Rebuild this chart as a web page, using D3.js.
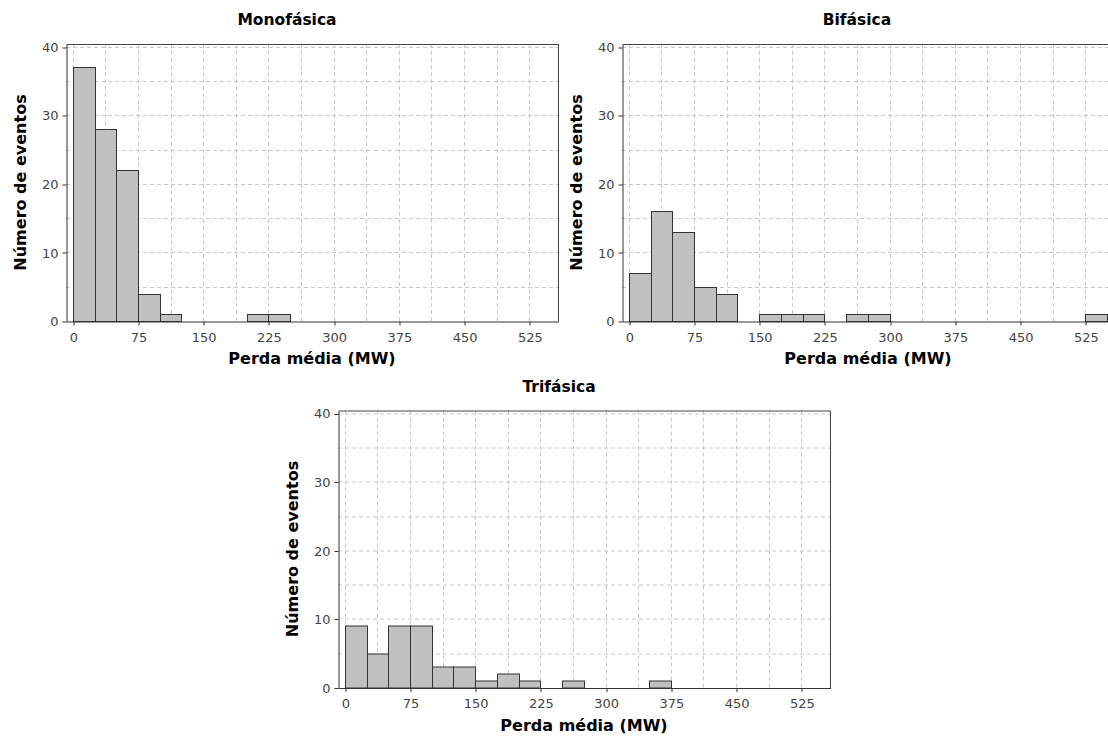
<!DOCTYPE html>
<html>
<head>
<meta charset="utf-8">
<script src="https://cdn.jsdelivr.net/npm/d3@7"></script>
<style>
  html, body { margin: 0; padding: 0; background: #fff; overflow: hidden; }
  svg { display: block; }
</style>
</head>
<body>
<svg id="chart" width="1108" height="738"></svg>
<script>
// Histogram bins: lower edge of each 25 MW class
const binWidth = 25;
const binStarts = [0, 25, 50, 75, 100, 125, 150, 175, 200, 225, 250,
                   275, 300, 325, 350, 375, 400, 425, 450, 475, 500, 525];

// Number of events per bin
const monofasica = [37, 28, 22, 4, 1, 0, 0, 0, 1, 1, 0, 0, 0, 0, 0, 0, 0, 0, 0, 0, 0, 0];
const bifasica   = [7, 16, 13, 5, 4, 0, 1, 1, 1, 0, 1, 1, 0, 0, 0, 0, 0, 0, 0, 0, 0, 1];
const trifasica  = [9, 5, 9, 9, 3, 3, 1, 2, 1, 0, 1, 0, 0, 0, 1, 0, 0, 0, 0, 0, 0, 0];

const titles = ["Monofásica", "Bifásica", "Trifásica"];
const xTicks = [0, 75, 150, 225, 300, 375, 450, 525];
const yTicks = [0, 10, 20, 30, 40];
const xLabel = "Perda média (MW)";
const yLabel = "Número de eventos";

const svg = d3.select("#chart");
const W = 492, H = 277;
const tickFont = "'DejaVu Sans', Verdana, sans-serif";

function drawPanel(title, counts, left, top, titleX) {
  const g = svg.append("g").attr("transform", `translate(${left},${top})`);
  const x = d3.scaleLinear().domain([-7.8, 558]).range([0, W]);
  const y = d3.scaleLinear().domain([0, 40.4]).range([H, 0]);
  const px = v => Math.round(x(v)) + 0.5;
  const py = v => Math.round(y(v)) + 0.5;

  // dashed grid
  const grid = g.append("g").attr("stroke", "#c8c8c8").attr("stroke-width", 1)
    .attr("stroke-dasharray", "4,3").attr("fill", "none");
  grid.selectAll("line.v").data(d3.range(0, 558, 37.5)).join("line")
    .attr("x1", d => px(d)).attr("x2", d => px(d))
    .attr("y1", 0).attr("y2", H);
  grid.selectAll("line.h").data(d3.range(5, 41, 5)).join("line")
    .attr("x1", 0).attr("x2", W)
    .attr("y1", d => py(d)).attr("y2", d => py(d));

  // bars
  const bins = binStarts.map((s, i) => ({ s, c: counts[i] })).filter(d => d.c > 0);
  g.append("g").selectAll("rect").data(bins).join("rect")
    .attr("x", d => px(d.s))
    .attr("width", d => Math.round(x(d.s + binWidth)) - Math.round(x(d.s)))
    .attr("y", d => py(d.c))
    .attr("height", d => Math.round(y(0)) - Math.round(y(d.c)))
    .attr("fill", "#c0c0c0")
    .attr("stroke", "#333")
    .attr("stroke-width", 1);

  // plot outline (top and right)
  g.append("path")
    .attr("d", `M0.5,0.5H${W + 0.5}V${H + 0.5}`)
    .attr("fill", "none").attr("stroke", "#444");

  // axes
  const xAxis = d3.axisBottom(x).tickValues(xTicks).tickSize(4).tickSizeOuter(0).tickPadding(7);
  const yAxis = d3.axisLeft(y).tickValues(yTicks).tickSize(4).tickSizeOuter(0).tickPadding(4);
  const gx = g.append("g").attr("transform", `translate(0.5,${H + 0.5})`).call(xAxis);
  const gy = g.append("g").attr("transform", `translate(0.5,0.5)`).call(yAxis);
  [gx, gy].forEach(a => {
    a.select(".domain").attr("stroke", "#333");
    a.selectAll(".tick line").attr("stroke", "#333");
    a.selectAll(".tick text").attr("fill", "#444")
      .style("font-family", tickFont).style("font-size", "13px");
  });
  gx.selectAll(".tick line").attr("transform", d => `translate(${Math.round(x(d)) - x(d)},0)`);
  gy.selectAll(".tick line").attr("transform", d => `translate(0,${Math.round(y(d)) - y(d)})`);

  // titles
  svg.append("text")
    .attr("x", titleX).attr("y", top - 19)
    .attr("text-anchor", "middle")
    .style("font-family", tickFont).style("font-weight", "bold").style("font-size", "15.5px")
    .text(title);
  g.append("text")
    .attr("x", W / 2).attr("y", H + 43)
    .attr("text-anchor", "middle")
    .style("font-family", tickFont).style("font-weight", "bold").style("font-size", "16px")
    .text(xLabel);
  g.append("text")
    .attr("transform", `translate(-46,${H / 2}) rotate(-90)`)
    .attr("dy", "0.35em")
    .attr("text-anchor", "middle")
    .style("font-family", tickFont).style("font-weight", "bold").style("font-size", "16px")
    .text(yLabel);
}

drawPanel(titles[0], monofasica, 66, 44, 287);
drawPanel(titles[1], bifasica, 622, 44, 857);
drawPanel(titles[2], trifasica, 338, 410.5, 559);
</script>
</body>
</html>
